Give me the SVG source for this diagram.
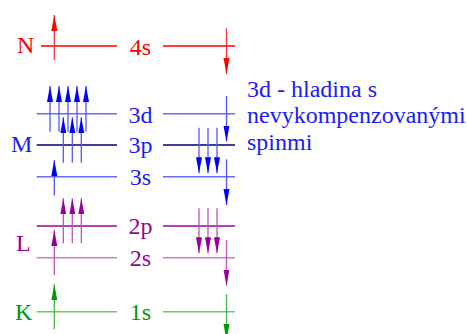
<svg xmlns="http://www.w3.org/2000/svg" width="467" height="334" viewBox="0 0 467 334" font-family="'Liberation Serif', 'Times New Roman', serif" font-size="24">
  <defs>
    <!-- arrowheads, one per shell colour -->
    <marker id="headRed" markerUnits="userSpaceOnUse" markerWidth="18" markerHeight="8" refX="16" refY="3.5" orient="auto">
      <path d="M0,0.5 L16,3.5 L0,6.5 z" fill="#ff0000"/>
    </marker>
    <marker id="headBlue" markerUnits="userSpaceOnUse" markerWidth="18" markerHeight="8" refX="16" refY="3.5" orient="auto">
      <path d="M0,0.5 L16,3.5 L0,6.5 z" fill="#0000ff"/>
    </marker>
    <marker id="headPurple" markerUnits="userSpaceOnUse" markerWidth="18" markerHeight="8" refX="16" refY="3.5" orient="auto">
      <path d="M0,0.5 L16,3.5 L0,6.5 z" fill="#990099"/>
    </marker>
    <marker id="headGreen" markerUnits="userSpaceOnUse" markerWidth="18" markerHeight="8" refX="16" refY="3.5" orient="auto">
      <path d="M0,0.5 L16,3.5 L0,6.5 z" fill="#009900"/>
    </marker>
  </defs>
  <style>
    text { font-family: "Liberation Serif", "Times New Roman", serif; font-size: 24px; }
    .lbl { text-anchor: middle; }
    .lvl { stroke-width: 1.4; fill: none; }
    .spin { stroke-width: 1.3; fill: none; }
    .red { fill: #ff0000; }
    .blue { fill: #1a1aff; }
    .purple { fill: #990099; }
    .green { fill: #009900; }
    .sRed { stroke: #ff3333; marker-end: url(#headRed); }
    .sBlue { stroke: #5555ff; marker-end: url(#headBlue); }
    .sPurple { stroke: #bb55bb; marker-end: url(#headPurple); }
    .sGreen { stroke: #44bb44; marker-end: url(#headGreen); }
  </style>
  <rect width="467" height="334" fill="#ffffff"/>

  <!-- shell N: 4s -->
  <g id="shellN">
    <text x="17" y="53" class="red">N</text>
    <path class="lvl" stroke="#ff0000" d="M41,46 H117 M163,46 H235"/>
    <text x="140.5" y="55" class="lbl red">4s</text>
  </g>

  <!-- shell M: 3s, 3p, 3d -->
  <g id="shellM">
    <text x="11" y="152" class="blue">M</text>
    <path class="lvl" stroke="#6a6aff" d="M36.7,113.7 H117 M163,113.7 H235"/>
    <text x="140.5" y="123" class="lbl blue">3d</text>
    <path class="lvl" stroke="#000070" stroke-width="1.1" d="M36.7,145 H117 M163,145 H235"/>
    <text x="140.5" y="153.3" class="lbl blue">3p</text>
    <path class="lvl" stroke="#6a6aff" d="M36.7,176.7 H117 M163,176.7 H235"/>
    <text x="140.5" y="185" class="lbl blue">3s</text>
  </g>

  <!-- shell L: 2s, 2p -->
  <g id="shellL">
    <text x="16" y="251" class="purple">L</text>
    <path class="lvl" stroke="#a000a0" stroke-width="1.1" d="M36.7,226 H117 M163,226 H235"/>
    <text x="140.5" y="234.3" class="lbl purple">2p</text>
    <path class="lvl" stroke="#cc80cc" d="M36.7,257.7 H117 M163,257.7 H235"/>
    <text x="140.5" y="266" class="lbl purple">2s</text>
  </g>

  <!-- shell K: 1s -->
  <g id="shellK">
    <text x="15" y="319.5" class="green">K</text>
    <path class="lvl" stroke="#66cc66" d="M36.7,311.7 H117 M163,311.7 H235"/>
    <text x="140.5" y="320" class="lbl green">1s</text>
  </g>

  <!-- note on the partly filled 3d level -->
  <g id="note">
    <text x="247" y="96.7" class="blue">3d - hladina s</text>
    <text x="247" y="123.3" class="blue">nevykompenzovanými</text>
    <text x="247" y="150" class="blue">spinmi</text>
  </g>

  <!-- electron spins: up on the left, down on the right -->
  <g id="spins">
    <!-- N -->
    <line class="spin sRed" x1="54.3" y1="60" x2="54.3" y2="15"/>
    <line class="spin sRed" x1="226.5" y1="28.3" x2="226.5" y2="74"/>
    <!-- 3d -->
    <line class="spin sBlue" x1="50" y1="131.7" x2="50" y2="86"/>
    <line class="spin sBlue" x1="59" y1="131.7" x2="59" y2="86"/>
    <line class="spin sBlue" x1="68" y1="131.7" x2="68" y2="86"/>
    <line class="spin sBlue" x1="77" y1="131.7" x2="77" y2="86"/>
    <line class="spin sBlue" x1="86" y1="131.7" x2="86" y2="86"/>
    <line class="spin sBlue" x1="226.5" y1="96" x2="226.5" y2="141.7"/>
    <!-- 3p -->
    <line class="spin sBlue" x1="63.3" y1="162.7" x2="63.3" y2="117.3"/>
    <line class="spin sBlue" x1="72.3" y1="162.7" x2="72.3" y2="117.3"/>
    <line class="spin sBlue" x1="81.3" y1="162.7" x2="81.3" y2="117.3"/>
    <line class="spin sBlue" x1="199" y1="127.7" x2="199" y2="173.3"/>
    <line class="spin sBlue" x1="208" y1="127.7" x2="208" y2="173.3"/>
    <line class="spin sBlue" x1="217" y1="127.7" x2="217" y2="173.3"/>
    <!-- 3s -->
    <line class="spin sBlue" x1="54.3" y1="195.5" x2="54.3" y2="160"/>
    <line class="spin sBlue" x1="226.5" y1="159.3" x2="226.5" y2="205"/>
    <!-- 2p -->
    <line class="spin sPurple" x1="63.3" y1="243.3" x2="63.3" y2="198.3"/>
    <line class="spin sPurple" x1="72.3" y1="243.3" x2="72.3" y2="198.3"/>
    <line class="spin sPurple" x1="81.3" y1="243.3" x2="81.3" y2="198.3"/>
    <line class="spin sPurple" x1="199" y1="208.3" x2="199" y2="253.3"/>
    <line class="spin sPurple" x1="208" y1="208.3" x2="208" y2="253.3"/>
    <line class="spin sPurple" x1="217" y1="208.3" x2="217" y2="253.3"/>
    <!-- 2s -->
    <line class="spin sPurple" x1="54.3" y1="275" x2="54.3" y2="230"/>
    <line class="spin sPurple" x1="226.5" y1="240" x2="226.5" y2="285.7"/>
    <!-- 1s -->
    <line class="spin sGreen" x1="54.3" y1="329.3" x2="54.3" y2="284.3"/>
    <line class="spin sGreen" x1="226.5" y1="294" x2="226.5" y2="340"/>
  </g>
</svg>
